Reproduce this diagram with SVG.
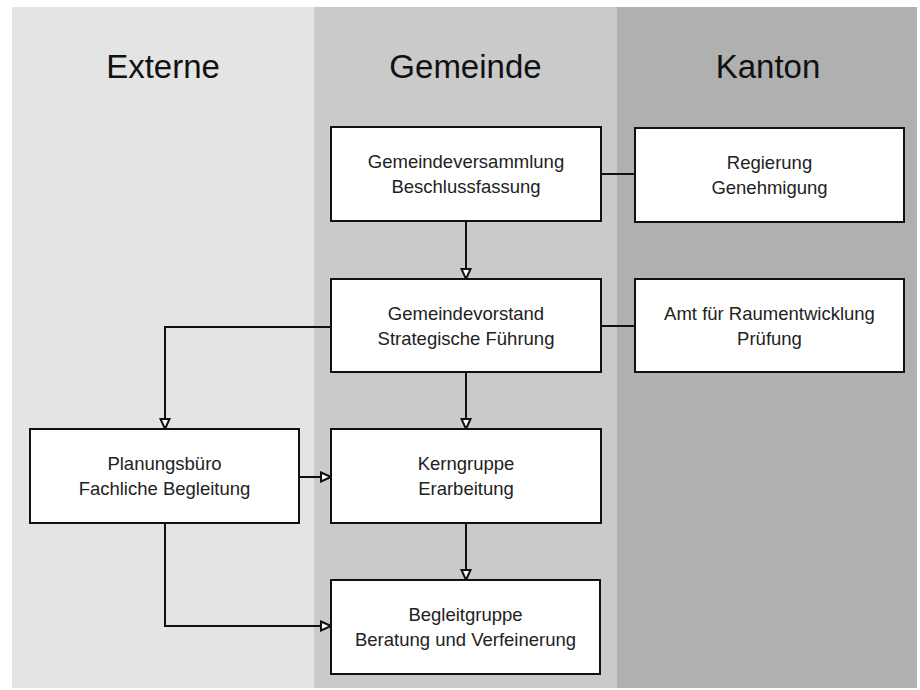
<svg xmlns="http://www.w3.org/2000/svg" width="920" height="690" viewBox="0 0 920 690">
<style>
.lane-title{font-family:"Liberation Sans",Arial,sans-serif;font-size:33px;fill:#111;text-anchor:middle}
.box{fill:#fff;stroke:#111;stroke-width:2}
.lbl{font-family:"Liberation Sans",Arial,sans-serif;font-size:18.5px;fill:#222;text-anchor:middle}
.conn{fill:none;stroke:#111;stroke-width:2}
</style>
<defs>
<marker id="arr" viewBox="0 0 12 12" refX="11" refY="6" markerWidth="12" markerHeight="12" markerUnits="userSpaceOnUse" orient="auto">
<path d="M1,1.5 L11,6 L1,10.5 Z" fill="#fff" stroke="#111" stroke-width="2" stroke-linejoin="miter"/>
</marker>
</defs>
<rect width="920" height="690" fill="#fff"/>
<g id="lanes">
<rect x="12" y="7" width="302" height="681" fill="#e4e4e4"/>
<rect x="314" y="7" width="303" height="681" fill="#cacaca"/>
<rect x="617" y="7" width="300" height="681" fill="#b0b0b0"/>
<text class="lane-title" x="163" y="78">Externe</text>
<text class="lane-title" x="465.5" y="78">Gemeinde</text>
<text class="lane-title" x="768" y="78">Kanton</text>
</g>
<g id="connectors">
<line class="conn" x1="601" y1="174" x2="635" y2="174"/>
<line class="conn" x1="601" y1="326" x2="635" y2="326"/>
<line class="conn" x1="466" y1="222" x2="466" y2="279" marker-end="url(#arr)"/>
<line class="conn" x1="466" y1="373" x2="466" y2="429" marker-end="url(#arr)"/>
<line class="conn" x1="466" y1="523" x2="466" y2="580" marker-end="url(#arr)"/>
<polyline class="conn" points="331,327 165,327 165,429" marker-end="url(#arr)"/>
<line class="conn" x1="299" y1="477" x2="331" y2="477" marker-end="url(#arr)"/>
<polyline class="conn" points="165,524 165,626 331,626" marker-end="url(#arr)"/>
</g>
<g id="gemeindeversammlung">
<rect class="box" x="331" y="127" width="270" height="94"/>
<text class="lbl" x="466" y="168">Gemeindeversammlung</text>
<text class="lbl" x="466" y="193">Beschlussfassung</text>
</g>
<g id="regierung">
<rect class="box" x="635" y="128" width="269" height="94"/>
<text class="lbl" x="769.5" y="169">Regierung</text>
<text class="lbl" x="769.5" y="194">Genehmigung</text>
</g>
<g id="gemeindevorstand">
<rect class="box" x="331" y="279" width="270" height="93"/>
<text class="lbl" x="466" y="320">Gemeindevorstand</text>
<text class="lbl" x="466" y="345">Strategische Führung</text>
</g>
<g id="amt">
<rect class="box" x="635" y="279" width="269" height="93"/>
<text class="lbl" x="769.5" y="320">Amt für Raumentwicklung</text>
<text class="lbl" x="769.5" y="345">Prüfung</text>
</g>
<g id="planungsbuero">
<rect class="box" x="30" y="429" width="269" height="94"/>
<text class="lbl" x="164.5" y="470">Planungsbüro</text>
<text class="lbl" x="164.5" y="495">Fachliche Begleitung</text>
</g>
<g id="kerngruppe">
<rect class="box" x="331" y="429" width="270" height="94"/>
<text class="lbl" x="466" y="470">Kerngruppe</text>
<text class="lbl" x="466" y="495">Erarbeitung</text>
</g>
<g id="begleitgruppe">
<rect class="box" x="331" y="580" width="269" height="94"/>
<text class="lbl" x="465.5" y="621">Begleitgruppe</text>
<text class="lbl" x="465.5" y="646">Beratung und Verfeinerung</text>
</g>
</svg>
